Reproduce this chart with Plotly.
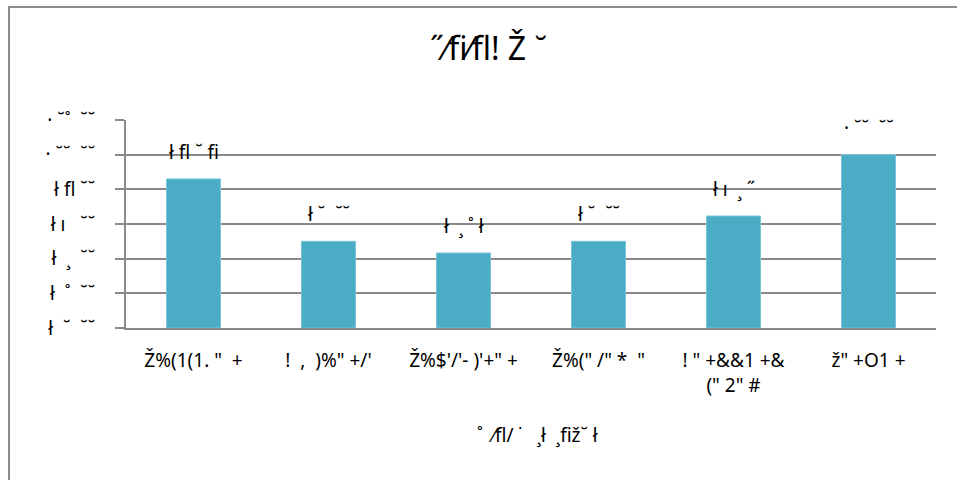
import plotly.graph_objects as go

S = "\u00a0"  # non-breaking space keeps the wide glyph spacing

# Chart data
categories = [
    f"Ž%(1(1.{S}\"{S}{S}+",
    f"!{S}{S},{S}{S})%\"{S}+/'",
    f"Ž%$'/'-{S})'+\"{S}+",
    f"Ž%(\"{S}/\"{S}*{S}{S}\"",
    f"!{S}\"{S}+&&1{S}+&<br>(\"{S}2\"{S}#",
    f"ž\"{S}+O1{S}+",
]
values = [86000, 50000, 43300, 50000, 64600, 100000]
value_labels = [f"ł{S}fl{S}˘{S}fi", f"ł{S}˘{S}{S}˘˘", f"ł{S}{S}¸{S}˚{S}ł",
                f"ł{S}˘{S}{S}˘˘", f"ł{S}ı{S}{S}¸{S}˝", f"·{S}˘˘{S}{S}˘˘"]
tick_values = [0, 20000, 40000, 60000, 80000, 100000, 120000]
tick_labels = [f"ł{S}{S}˘{S}{S}˘˘", f"ł{S}{S}˚{S}{S}˘˘", f"ł{S}{S}¸{S}{S}˘˘",
               f"ł{S}ı{S}{S}{S}˘˘", f"ł{S}fl{S}˘˘", f"·{S}˘˘{S}{S}˘˘", f"·{S}˘˚{S}{S}˘˘"]
chart_title = f"˝⁄fi⁄fl!{S}Ž{S}˘"
x_title = f"˚{S}{S}⁄fl/{S}˙{S}{S}{S}¸ł{S}{S}¸fiž˘{S}ł"

W, H = 957, 480
L, R, T, B = 126, 21, 120, 152
FONT = "Noto Sans"
GRID = "#8a8a8a"

fig = go.Figure(go.Bar(
    x=categories, y=values, width=0.4,
    marker=dict(color="#4BACC6", line=dict(color="#7cc4d8", width=1)),
    hoverinfo="skip",
))

# value labels above each bar
for c, v, lab in zip(categories, values, value_labels):
    fig.add_annotation(x=c, y=v, text=lab, showarrow=False, yanchor="bottom",
                       yshift=12, font=dict(family=FONT, size=19, color="black"))

pw, ph = W - L - R, H - T - B

def px_x(p):
    return (p - L) / pw

def px_y(p):
    return (H - B - p) / ph

# outer chart border
fig.add_shape(type="rect", xref="paper", yref="paper",
              x0=px_x(9), x1=px_x(990), y0=px_y(7), y1=px_y(520),
              line=dict(color="#8c8c8c", width=2), fillcolor="rgba(0,0,0,0)", layer="below")

fig.add_annotation(xref="paper", yref="paper", x=px_x(488), y=px_y(48), text=chart_title,
                   showarrow=False, xanchor="center", yanchor="middle",
                   font=dict(family=FONT, size=32, color="black"))
fig.add_annotation(xref="paper", yref="paper", x=px_x(538), y=px_y(435), text=x_title,
                   showarrow=False, xanchor="center", yanchor="middle",
                   font=dict(family=FONT, size=19, color="black"))

fig.update_layout(
    width=W, height=H, autosize=False,
    margin=dict(l=L, r=R, t=T, b=B, pad=0),
    plot_bgcolor="white", paper_bgcolor="white",
    showlegend=False, bargap=0.6,
    font=dict(family=FONT, size=18, color="black"),
)
fig.update_xaxes(
    showgrid=False, showline=True, linecolor=GRID, linewidth=2,
    ticks="", tickfont=dict(family=FONT, size=19, color="black"),
    ticklabelstandoff=14, fixedrange=True,
)
fig.update_yaxes(
    range=[0, 120000], tickvals=tick_values, ticktext=tick_labels,
    showgrid=True, gridcolor=GRID, gridwidth=2,
    showline=True, linecolor=GRID, linewidth=2,
    ticks="outside", ticklen=9, tickcolor=GRID, tickwidth=2,
    tickfont=dict(family=FONT, size=19, color="black"),
    ticklabelstandoff=16, zeroline=False, fixedrange=True,
)

fig.write_html("out.html")
